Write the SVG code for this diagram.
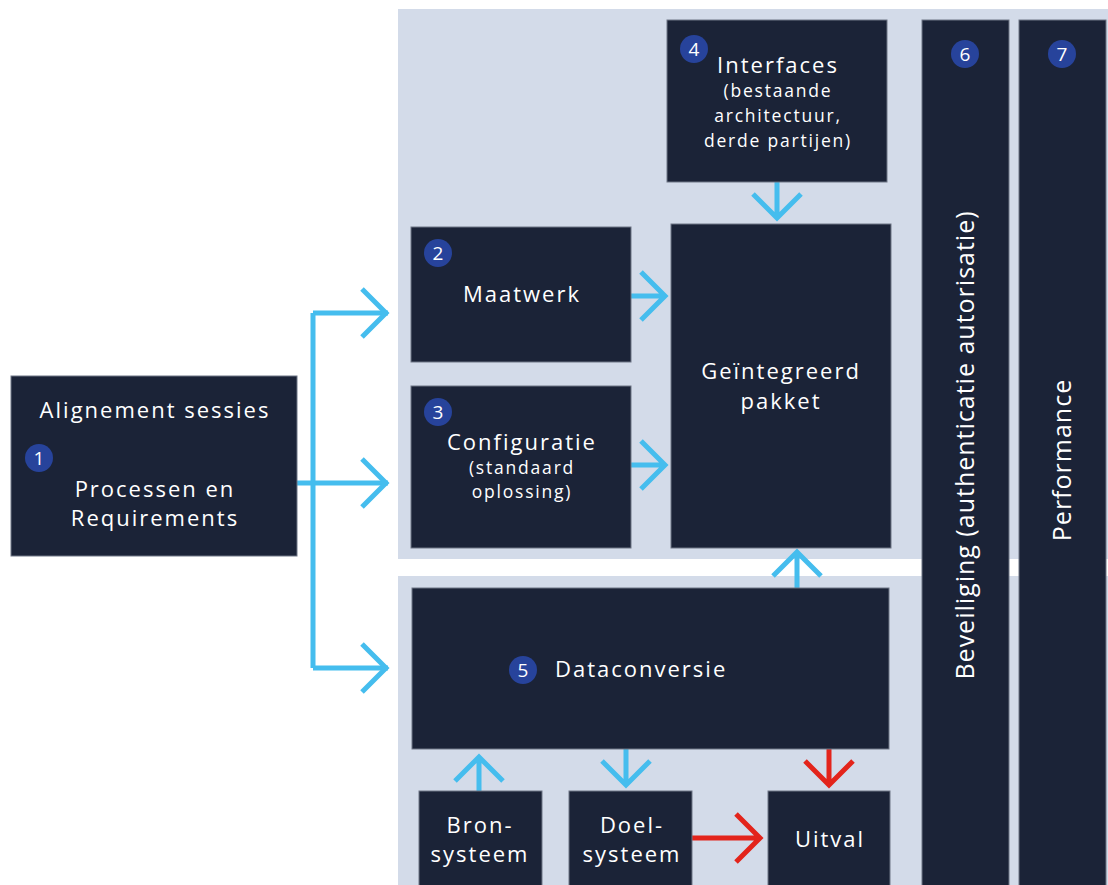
<svg xmlns="http://www.w3.org/2000/svg" width="1108" height="885" viewBox="0 0 1108 885">
  <style>
    .panel { fill: #d3dbe9; }
    .box { fill: #1b2337; stroke: #6f7686; stroke-width: 1; }
    .badge { fill: #27439b; }
    .num { fill: #ffffff; font-family: "Open Sans", sans-serif; font-size: 19px; text-anchor: middle; }
    .t { fill: #ffffff; font-family: "Open Sans", sans-serif; font-size: 22px; letter-spacing: 2px; text-anchor: middle; }
    .s { fill: #ffffff; font-family: "Open Sans", sans-serif; font-size: 17.5px; letter-spacing: 1.8px; text-anchor: middle; }
    .v { fill: #ffffff; font-family: "Open Sans", sans-serif; font-size: 25px; letter-spacing: 1px; text-anchor: middle; }
    .blue { stroke: #45bdee; stroke-width: 5; fill: none; }
    .red { stroke: #e3241b; stroke-width: 5; fill: none; }
  </style>

  <!-- background areas -->
  <rect class="panel" x="398" y="9" width="710" height="550"/>
  <rect class="panel" x="398" y="576" width="710" height="309"/>

  <!-- connectors -->
  <g id="connectors">
    <!-- split from node 1 -->
    <path class="blue" d="M297 483 H388 M313 313 V668 M313 313 H388 M313 668 H388"/>
    <path class="blue" d="M362 289 L386 313 L362 337 M362 459 L386 483 L362 507 M362 644 L386 668 L362 692"/>
    <!-- Maatwerk / Configuratie to package -->
    <path class="blue" d="M631 296 H666 M641 272 L665 296 L641 320"/>
    <path class="blue" d="M631 465 H666 M641 441 L665 465 L641 489"/>
    <!-- Interfaces down to package -->
    <path class="blue" d="M777 182 V218 M753 194 L777 218 L801 194"/>
    <!-- Dataconversie up to package -->
    <path class="blue" d="M797 588 V552 M773 576 L797 552 L821 576"/>
    <!-- Bron up -->
    <path class="blue" d="M479 791 V757 M455 781 L479 757 L503 781"/>
    <!-- down to Doel -->
    <path class="blue" d="M626 749 V785 M602 761 L626 785 L650 761"/>
    <!-- red: to Uitval -->
    <path class="red" d="M829 749 V785 M805 761 L829 785 L853 761"/>
    <path class="red" d="M692 838 H760 M736 814 L760 838 L736 862"/>
  </g>

  <g id="node1">
    <rect class="box" x="11" y="376" width="286" height="180"/>
    <text class="t" x="155" y="418">Alignement sessies</text>
    <circle class="badge" cx="39" cy="458" r="14"/>
    <text class="num" x="39" y="465">1</text>
    <text class="t" x="155" y="497">Processen en</text>
    <text class="t" x="155" y="526">Requirements</text>
  </g>

  <g id="node2">
    <rect class="box" x="411" y="227" width="220" height="135"/>
    <circle class="badge" cx="438" cy="253" r="14"/>
    <text class="num" x="438" y="260">2</text>
    <text class="t" x="522" y="302">Maatwerk</text>
  </g>

  <g id="node3">
    <rect class="box" x="411" y="386" width="220" height="162"/>
    <circle class="badge" cx="438" cy="412" r="14"/>
    <text class="num" x="438" y="419">3</text>
    <text class="t" x="522" y="450">Configuratie</text>
    <text class="s" x="522" y="474">(standaard</text>
    <text class="s" x="522" y="498">oplossing)</text>
  </g>

  <g id="node4">
    <rect class="box" x="667" y="20" width="220" height="162"/>
    <circle class="badge" cx="694" cy="49" r="14"/>
    <text class="num" x="694" y="56">4</text>
    <text class="t" x="778" y="73">Interfaces</text>
    <text class="s" x="778" y="97">(bestaande</text>
    <text class="s" x="778" y="122">architectuur,</text>
    <text class="s" x="778" y="147">derde partijen)</text>
  </g>

  <g id="package">
    <rect class="box" x="671" y="224" width="220" height="324"/>
    <text class="t" x="781" y="379">Geïntegreerd</text>
    <text class="t" x="781" y="409">pakket</text>
  </g>

  <g id="node5">
    <rect class="box" x="412" y="588" width="477" height="161"/>
    <circle class="badge" cx="523" cy="670" r="14"/>
    <text class="num" x="523" y="677">5</text>
    <text class="t" x="555" y="677" style="text-anchor:start">Dataconversie</text>
  </g>

  <g id="bron">
    <rect class="box" x="419" y="791" width="123" height="100"/>
    <text class="t" x="480" y="833">Bron-</text>
    <text class="t" x="480" y="862">systeem</text>
  </g>

  <g id="doel">
    <rect class="box" x="569" y="791" width="123" height="100"/>
    <text class="t" x="632" y="833">Doel-</text>
    <text class="t" x="632" y="862">systeem</text>
  </g>

  <g id="uitval">
    <rect class="box" x="768" y="791" width="122" height="100"/>
    <text class="t" x="830" y="847">Uitval</text>
  </g>

  <g id="node6">
    <rect class="box" x="922" y="20" width="87" height="870"/>
    <circle class="badge" cx="965" cy="54" r="14"/>
    <text class="num" x="965" y="61">6</text>
    <text class="v" transform="translate(974 445) rotate(-90)">Beveiliging (authenticatie autorisatie)</text>
  </g>

  <g id="node7">
    <rect class="box" x="1019" y="20" width="87" height="870"/>
    <circle class="badge" cx="1062" cy="54" r="14"/>
    <text class="num" x="1062" y="61">7</text>
    <text class="v" transform="translate(1071 460) rotate(-90)">Performance</text>
  </g>
</svg>
